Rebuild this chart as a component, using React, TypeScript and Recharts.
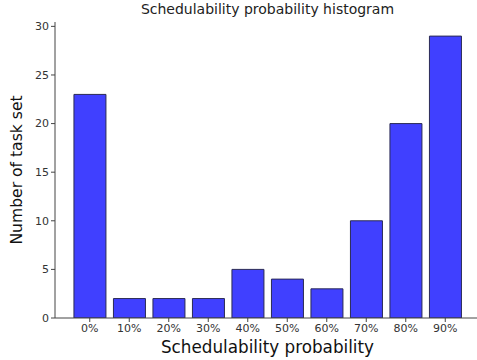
import React from 'react';
import { BarChart, Bar, XAxis, YAxis, Label } from 'recharts';

const categories = ['0%', '10%', '20%', '30%', '40%', '50%', '60%', '70%', '80%', '90%'];
const counts = [23, 2, 2, 2, 5, 4, 3, 10, 20, 29];
const yTicks = [0, 5, 10, 15, 20, 25, 30];

const data = categories.map((name, i) => ({ name, count: counts[i] }));

const font = 'DejaVu Sans, sans-serif';

export default function App() {
  return (
    <div style={{ position: 'absolute', left: 0, top: 0, width: 477, height: 360, overflow: 'hidden', fontFamily: font }}>
      <div style={{ position: 'absolute', top: 1, left: 55, width: 425, textAlign: 'center', fontSize: 14, color: '#222' }}>
        Schedulability probability histogram
      </div>
      <BarChart
        width={490}
        height={360}
        data={data}
        margin={{ top: 22, right: 10, bottom: 0, left: 0 }}
        barCategoryGap="10%"
      >
        <XAxis
          dataKey="name"
          padding={{ left: 15, right: 15 }}
          height={42}
          stroke="#444"
          tick={{ fill: '#333', fontSize: 11, fontFamily: font }}
          tickLine={{ stroke: '#444' }}
          tickSize={4}
          interval={0}
        >
          <Label value="Schedulability probability" position="insideBottom" offset={7} style={{ fontSize: 16.8, fill: '#111', fontFamily: font }} />
        </XAxis>
        <XAxis xAxisId="top" dataKey="name" orientation="top" height={0} tick={false} tickLine={false} stroke="#444" />
        <YAxis
          width={55}
          domain={[0, 30.45]}
          ticks={yTicks}
          stroke="#444"
          tick={{ fill: '#333', fontSize: 11, fontFamily: font }}
          tickSize={4}
          allowDataOverflow
        >
          <Label value="Number of task set" angle={-90} position="insideLeft" offset={16} style={{ fontSize: 15.6, fill: '#111', fontFamily: font, textAnchor: 'middle' }} />
        </YAxis>
        <Bar dataKey="count" fill="#4040ff" stroke="#2a2a55" strokeWidth={1} isAnimationActive={false} />
      </BarChart>
    </div>
  );
}
